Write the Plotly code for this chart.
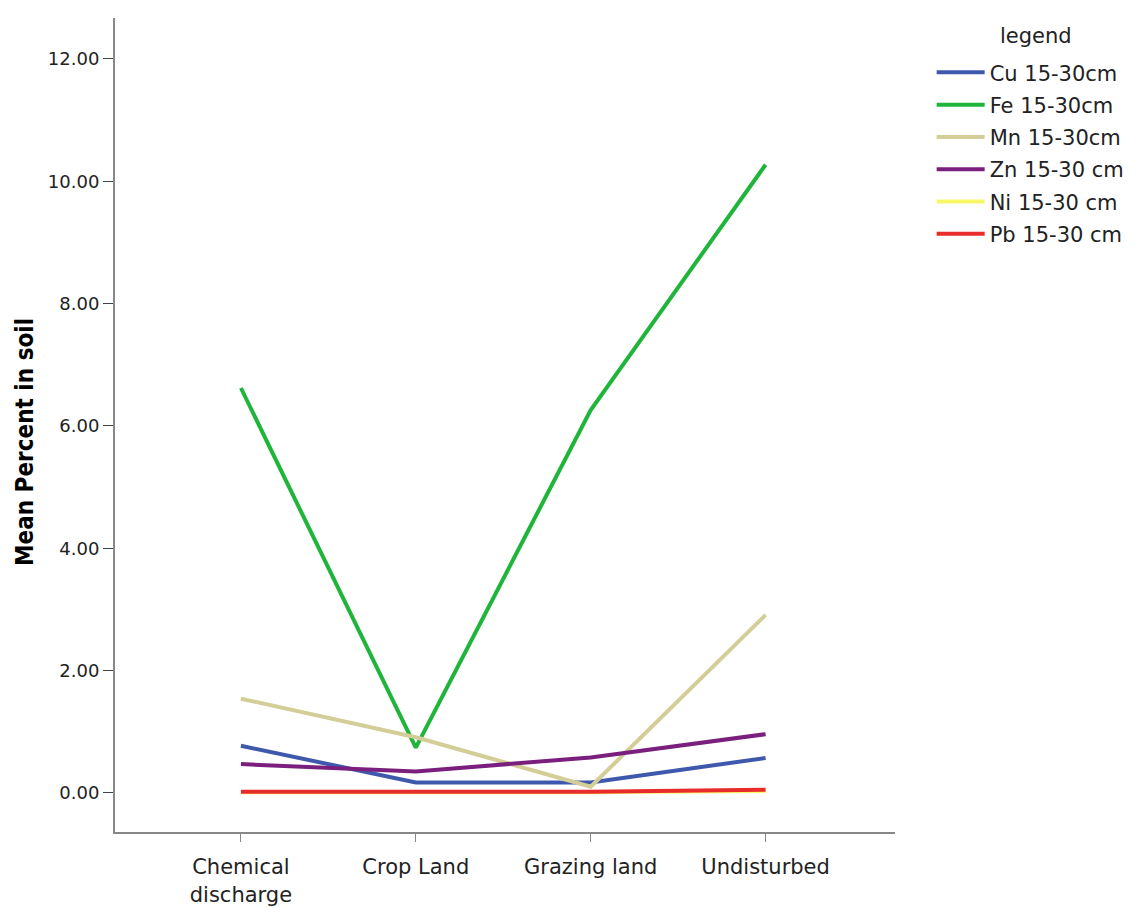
import plotly.graph_objects as go

categories = ["Chemical<br>discharge", "Crop Land", "Grazing land", "Undisturbed"]
cu = [0.77, 0.17, 0.17, 0.57]
fe = [6.62, 0.74, 6.26, 10.27]
mn = [1.54, 0.91, 0.10, 2.91]
zn = [0.47, 0.35, 0.58, 0.96]
ni = [0.01, 0.01, 0.01, 0.03]
pb = [0.02, 0.02, 0.02, 0.05]
series_names = ["Cu 15-30cm", "Fe 15-30cm", "Mn 15-30cm", "Zn 15-30 cm", "Ni 15-30 cm", "Pb 15-30 cm"]
colors = ["#3E58AC", "#1FB53A", "#D3CE97", "#7A1F7E", "#F8F76A", "#E82B2B"]
tick_vals = [0, 2, 4, 6, 8, 10, 12]

FONT = "DejaVu Sans, Liberation Sans, Arial, sans-serif"
L, T, PW, PH = 107, 10, 780, 814
OFF = 8  # page body margin


def px_x(p):
    return (p - OFF - L) / PW


def px_y(p):
    return 1.0 - (p - OFF - T) / PH


fig = go.Figure()
for name, vals, col in zip(series_names, [cu, fe, mn, zn, ni, pb], colors):
    fig.add_trace(go.Scatter(x=list(range(len(categories))), y=vals, name=name,
                             legendgroup=name,
                             mode="lines", line=dict(color=col, width=4)))

fig.update_layout(
    width=1136, height=908,
    paper_bgcolor="white", plot_bgcolor="white",
    margin=dict(l=L, r=249, t=T, b=84),
    font=dict(family=FONT, size=20, color="#222"),
    showlegend=True,
    legend=dict(x=1.047, xanchor="left", y=0.958, yanchor="top",
                font=dict(size=21), tracegroupgap=2, itemwidth=48,
                bgcolor="rgba(0,0,0,0)"),
    annotations=[
        dict(text="legend", xref="paper", yref="paper",
             x=px_x(1036), y=px_y(36), xanchor="center", yanchor="middle",
             showarrow=False, font=dict(family=FONT, size=21, color="#222")),
        dict(text="<b>Mean Percent in soil</b>", xref="paper", yref="paper",
             x=px_x(25), y=px_y(442), xanchor="center", yanchor="middle",
             textangle=-90, showarrow=False,
             font=dict(family="DejaVu Sans Condensed, Liberation Sans, sans-serif", size=24, color="black")),
    ],
)
fig.update_xaxes(
    tickmode="array", tickvals=list(range(len(categories))), ticktext=categories,
    range=[-0.72, 3.74], showgrid=False, zeroline=False, automargin=False,
    showline=True, linecolor="#888", linewidth=2,
    ticks="outside", ticklen=8, tickcolor="#888", tickfont=dict(size=21),
    ticklabelstandoff=7,
)
fig.update_yaxes(
    tickmode="array", tickvals=tick_vals, ticktext=[f"{v:.2f}" for v in tick_vals],
    range=[-0.64, 12.67], showgrid=False, zeroline=False, automargin=False,
    showline=True, linecolor="#888", linewidth=2,
    ticks="outside", ticklen=10, tickcolor="#444", tickfont=dict(size=18),
)
fig.write_html("out.html")
